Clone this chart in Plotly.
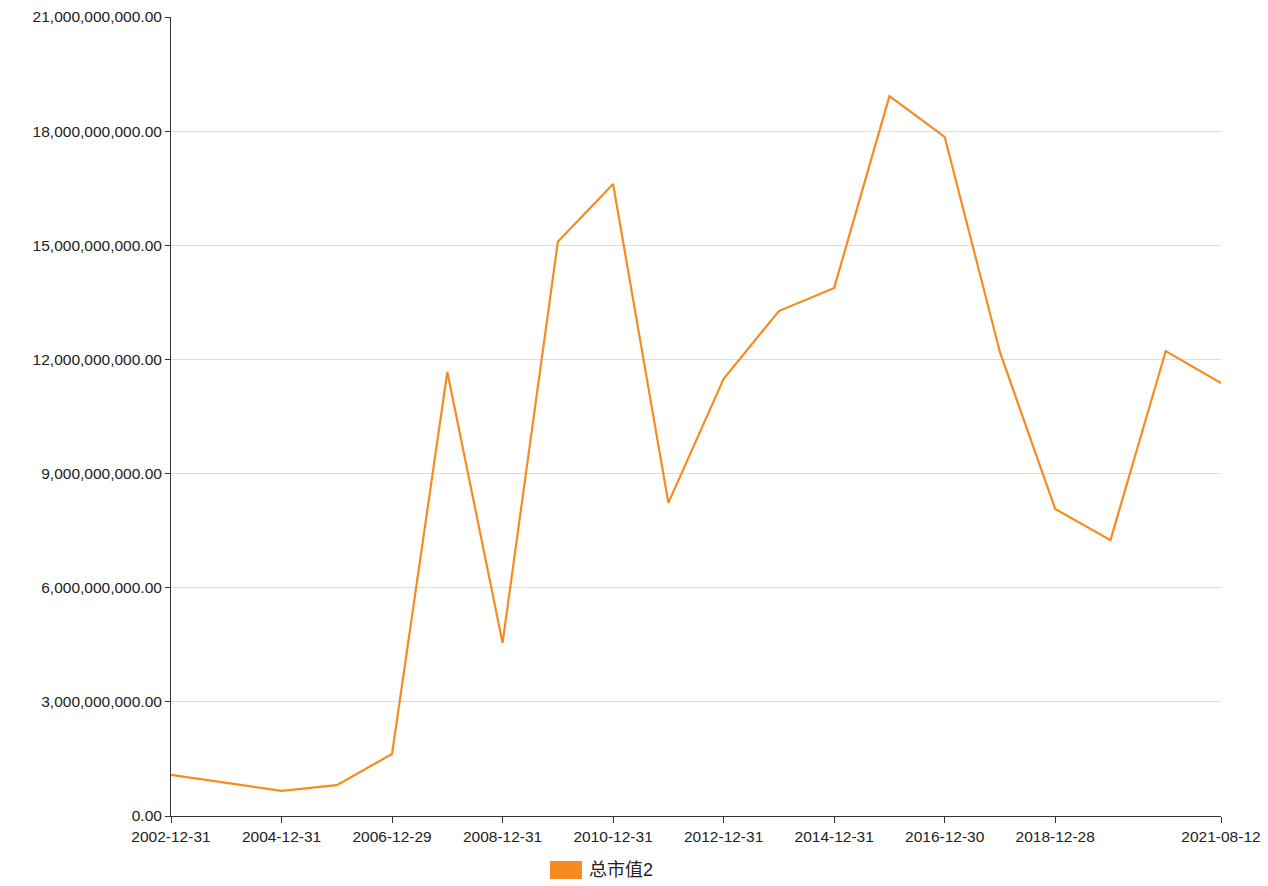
import plotly.graph_objects as go

dates = ["2002-12-31", "2003-12-31", "2004-12-31", "2005-12-30", "2006-12-29",
         "2007-12-28", "2008-12-31", "2009-12-31", "2010-12-31", "2011-12-30",
         "2012-12-31", "2013-12-31", "2014-12-31", "2015-12-31", "2016-12-30",
         "2017-12-29", "2018-12-28", "2019-12-31", "2020-12-31", "2021-08-12"]
market_cap = [1.08e9, 0.87e9, 0.66e9, 0.81e9, 1.63e9,
              11.67e9, 4.55e9, 15.09e9, 16.61e9, 8.23e9,
              11.49e9, 13.27e9, 13.88e9, 18.92e9, 17.85e9,
              12.19e9, 8.07e9, 7.25e9, 12.22e9, 11.38e9]
series_name = "总市值2"
x_ticks = ["2002-12-31", "2004-12-31", "2006-12-29", "2008-12-31", "2010-12-31",
           "2012-12-31", "2014-12-31", "2016-12-30", "2018-12-28", "2021-08-12"]

orange = "#f68b1f"
font = "Liberation Sans, Arial, Noto Sans CJK SC, sans-serif"

fig = go.Figure()
fig.add_trace(go.Scatter(x=dates, y=market_cap, mode="lines", name=series_name,
                         line=dict(color=orange, width=2.2), showlegend=False))

# legend swatch like the original (rectangle + label)
fig.add_shape(type="rect", xref="paper", yref="paper",
              x0=(550 - 171) / 1050, x1=(582 - 171) / 1050,
              y0=-(861 - 816) / 799, y1=-(879 - 816) / 799,
              fillcolor=orange, line=dict(width=0))
fig.add_annotation(text=series_name, xref="paper", yref="paper",
                   x=(587 - 171) / 1050, y=-(870 - 816) / 799,
                   xanchor="left", yanchor="middle", showarrow=False,
                   font=dict(size=18, color="#222"))

fig.update_xaxes(type="category", range=[0, len(dates) - 1], automargin=False,
                 tickvals=x_ticks, ticktext=x_ticks,
                 showline=True, linecolor="#333", linewidth=1,
                 ticks="outside", ticklen=6, tickcolor="#333",
                 showgrid=False, zeroline=False,
                 tickfont=dict(size=15.5, color="#222"))
fig.update_yaxes(range=[0, 21e9], dtick=3e9, tickformat=",.2f", automargin=False,
                 showline=True, linecolor="#333", linewidth=1,
                 ticks="outside", ticklen=5, tickcolor="#333",
                 gridcolor="#dcdcdc", zeroline=False,
                 tickfont=dict(size=15.5, color="#222"))
# page has an 8px body margin, so size/margins are shifted by that
fig.update_layout(width=1252, height=878, plot_bgcolor="white", paper_bgcolor="white",
                  margin=dict(l=163, r=39, t=9, b=70),
                  font=dict(family=font), showlegend=False)

fig.write_html("out.html")
